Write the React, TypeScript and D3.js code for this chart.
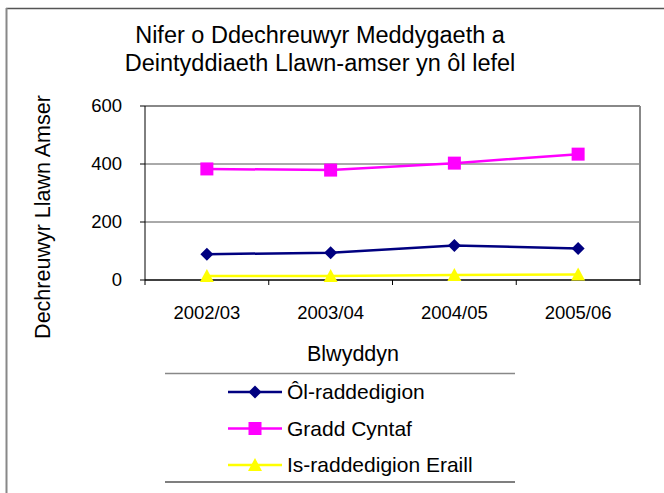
import React from "react";
import * as d3 from "d3";

const categories = ["2002/03", "2003/04", "2004/05", "2005/06"];
const olRaddedigion = [89, 94, 119, 109];
const graddCyntaf = [383, 379, 403, 434];
const isRaddedigion = [14, 14, 17, 19];
const yTicks = [0, 200, 400, 600];

const seriesNames = ["Ôl-raddedigion", "Gradd Cyntaf", "Is-raddedigion Eraill"];
const seriesColors = ["#000080", "#FF00FF", "#FFFF00"];
const seriesShapes = ["diamond", "square", "triangle"];
const seriesValues = [olRaddedigion, graddCyntaf, isRaddedigion];

const W = 664;
const H = 493;
const plot = { left: 145, right: 640, top: 106, bottom: 280 };
const font = "Liberation Sans, Arial, sans-serif";

function Marker({ shape, x, y, color }: { shape: string; x: number; y: number; color: string }) {
  if (shape === "diamond") {
    const s = 6.5;
    return <path d={`M${x},${y - s}L${x + s},${y}L${x},${y + s}L${x - s},${y}Z`} fill={color} />;
  }
  if (shape === "square") {
    const s = 6.5;
    return <rect x={x - s} y={y - s} width={2 * s} height={2 * s} fill={color} />;
  }
  const s = 7;
  return <path d={`M${x},${y - s}L${x + s},${y + s * 0.85}L${x - s},${y + s * 0.85}Z`} fill={color} />;
}

export default function App() {
  const x = d3.scaleBand<string>().domain(categories).range([plot.left, plot.right]);
  const y = d3.scaleLinear().domain([0, 600]).range([plot.bottom, plot.top]);
  const line = d3
    .line<number>()
    .x((_, i) => (x(categories[i]) as number) + x.bandwidth() / 2)
    .y((d) => y(d));
  const catTicks = [...categories.map((c) => x(c) as number), plot.right];

  return (
    <svg
      width={W}
      height={H}
      style={{ position: "absolute", left: 0, top: 0, background: "#fff" }}
      fontFamily={font}
    >
      <rect x={0} y={0} width={W} height={H} fill="#fff" />
      {/* outer chart border */}
      <line x1={6} y1={8.5} x2={W} y2={8.5} stroke="#555" strokeWidth={1.5} />
      <line x1={6.5} y1={8} x2={6.5} y2={H} stroke="#888" strokeWidth={2} />

      {/* title */}
      <text x={320} y={43} textAnchor="middle" fontSize={23.5} fill="#000">
        Nifer o Ddechreuwyr Meddygaeth a
      </text>
      <text x={320} y={71} textAnchor="middle" fontSize={23.5} fill="#000">
        Deintyddiaeth Llawn-amser yn ôl lefel
      </text>

      {/* gridlines */}
      {yTicks.slice(1, 3).map((t) => (
        <line key={t} x1={plot.left} x2={plot.right} y1={y(t)} y2={y(t)} stroke="#555" strokeWidth={1} />
      ))}
      {/* plot border top & right */}
      <line x1={plot.left} x2={plot.right} y1={plot.top} y2={plot.top} stroke="#888" strokeWidth={2} />
      <line x1={plot.right} x2={plot.right} y1={plot.top} y2={plot.bottom} stroke="#888" strokeWidth={2} />
      {/* axes */}
      <line x1={plot.left} x2={plot.left} y1={plot.top} y2={plot.bottom} stroke="#000" strokeWidth={1} />
      <line x1={plot.left} x2={plot.right} y1={plot.bottom} y2={plot.bottom} stroke="#000" strokeWidth={1.5} />
      {yTicks.map((t) => (
        <g key={t}>
          <line x1={plot.left - 5} x2={plot.left} y1={y(t)} y2={y(t)} stroke="#000" />
          <text x={122} y={y(t)} dy="0.35em" textAnchor="end" fontSize={18.5}>
            {t}
          </text>
        </g>
      ))}
      {catTicks.map((cx, i) => (
        <line key={i} x1={cx} x2={cx} y1={plot.bottom} y2={plot.bottom + 5} stroke="#000" />
      ))}
      {categories.map((c) => (
        <text key={c} x={(x(c) as number) + x.bandwidth() / 2} y={313} dy="0.35em" textAnchor="middle" fontSize={18.5}>
          {c}
        </text>
      ))}

      {/* axis titles */}
      <text x={353} y={353} dy="0.35em" textAnchor="middle" fontSize={21.5}>
        Blwyddyn
      </text>
      <text
        transform={`translate(42,217) rotate(-90)`}
        dy="0.35em"
        textAnchor="middle"
        fontSize={21.5}
      >
        Dechreuwyr Llawn Amser
      </text>

      {/* series */}
      {seriesValues.map((vals, si) => (
        <g key={si}>
          <path d={line(vals) || ""} fill="none" stroke={seriesColors[si]} strokeWidth={2.5} />
          {vals.map((v, i) => (
            <Marker
              key={i}
              shape={seriesShapes[si]}
              x={(x(categories[i]) as number) + x.bandwidth() / 2}
              y={y(v)}
              color={seriesColors[si]}
            />
          ))}
        </g>
      ))}

      {/* legend */}
      <line x1={165} x2={515} y1={373.5} y2={373.5} stroke="#888" strokeWidth={1.5} />
      <line x1={165} x2={515} y1={482} y2={482} stroke="#555" strokeWidth={1.5} />
      {seriesNames.map((n, i) => {
        const ly = 392 + i * 36.5;
        return (
          <g key={n}>
            <line x1={228} x2={282} y1={ly} y2={ly} stroke={seriesColors[i]} strokeWidth={2.5} />
            <Marker shape={seriesShapes[i]} x={255} y={ly} color={seriesColors[i]} />
            <text x={287} y={ly} dy="0.35em" fontSize={21}>
              {n}
            </text>
          </g>
        );
      })}
    </svg>
  );
}
